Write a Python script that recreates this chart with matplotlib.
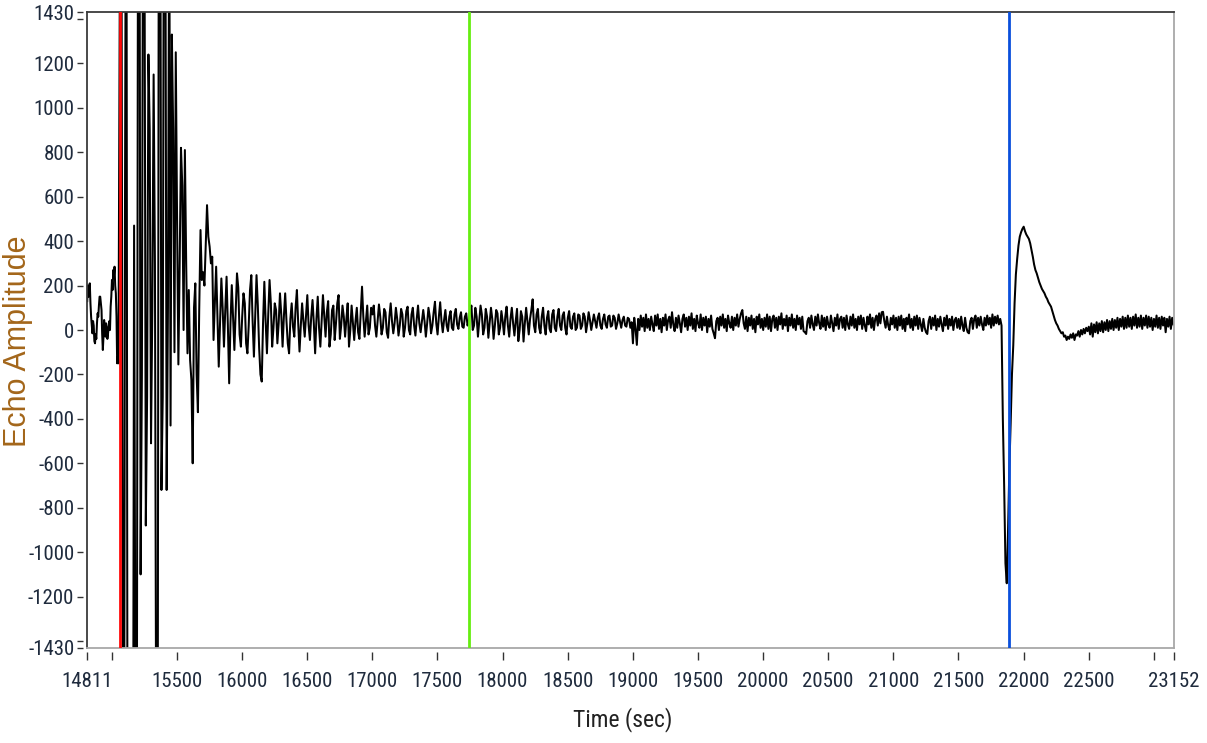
import numpy as np
import matplotlib
matplotlib.use("Agg")
import matplotlib.pyplot as plt
from matplotlib import font_manager as fm

# ---------------- data ----------------
pre_event_start, pre_event_interval = 14811, 5
pre_event = [130, 200, 150, 195, 210, 120, 60, 20, -15, 40, 20, -50, -60, -20, -40, 30,
             75, 60, 110, 150, 150, 120, 90, -20, -90, -30, 45, 10, -30, 30, 15, -40,
             -15, 10, 40, 0, 105, 150, 225, 180, 270, 240, 285, 200, 165, 60, -150, -120]

sample_interval = 10  # seconds between samples after the pre-event part

burst_start = 15051
burst = [-150, 1500, 3000, -500, -3500, 500, 3000, -2500, -4000, -4000, -3500, -3000,
         470, -1800, -2500, 2000, 2800, -1100, -200, 2400, 1800, -880, -300, 1240, 900,
         -510, 100, 1150, 300, -2000, -2600, 2200, 2600, -720, -300, 2400, 2000, -720,
         100, 2000, -430, 1330, 900, -100, 1250]

ringdown_start = 15501
ringdown = [500, -155, 300, 820, 650, 0, 810, 300, -105, 180, -135, -225, -600, 100, 210,
            -200, -370, 90, 450, 225, 260, 200, 380, 562, 420, 375, 300, 330, -45, 120, 285,
            60, -165, 40, 232, 100, -75, 90, 240, 20, -240, 30, 202, 60, -90, 80, 255, 190,
            -20, -75, 60]

coda_1_start = 16011
coda_1 = [165, 120, -60, -105, 20, 180, 247, 40, -120, 60,
          247, 110, -80, -200, -232, 30, 217, 40, -105, 70,
          225, 120, -75, 10, 120, 90, -60, 30, 165, 70,
          -75, 60, 165, 40, -60, -105, 50, 120, 15, -30,
          100, 180, 30, -97, 20, 120, 40, -30, 60, 157,
          20, -45, 60, 135, 30, -105, 50, 150, 10, -75,
          40, 157, 60, -30, 80, 130, -75, -20, 90, 110,
          -45, 30, 120, 157, -40, 20, 110, 60, -30, 50,
          120, -75, 0, 110, 30, -45, 40, 100, -10, -40,
          80, 195, 60, -30, 40, 110, -20, 10, 100, 70]

coda_2_start = 17011
coda_2 = [110, 20, -30, 40, 115, 60, -20, 10, 95, 80,
          -10, -35, 60, 120, 40, -15, 30, 100, 50, -25,
          20, 95, 70, -30, 10, 85, 105, 0, -20, 70,
          100, 20, -25, 50, 110, 30, -10, 40, 90, 40,
          -30, 30, 100, 60, -15, 20, 80, 127, 30, -20,
          60, 125, 40, -10, 45, 90, 20, -5, 60, 85,
          10, 0, 70, 95, 25, 5, 55, 80, 15, 10,
          60, 75, 20, 40, 90, 110, 0, 20, 100, 60,
          -30, 40, 110, 70, -20, 10, 95, 60, -35, 30,
          100, 50, -40, 20, 90, 75, -20, 10, 85, 40]

coda_3_start = 18011
coda_3 = [-20, 60, 105, 20, -30, 50, 100, 30, -25, 40,
          95, -50, 0, 85, 60, -52, 30, 100, 40, -20,
          50, 90, 138, 20, -10, 70, 95, 10, -15, 60,
          100, 20, -20, 55, 85, 5, -10, 70, 90, 10,
          -5, 60, 95, 20, 0, 65, 80, 10, -20, 55,
          85, 15, 5, 60, 75, 0, 10, 70, 65, 5,
          20, 75, 60, -10, 30, 80, 45, 0, 35, 70,
          40, 10, 55, 75, 20, 5, 50, 70, 25, 10,
          60, 65, 15, 20, 65, 55, 5, 30, 70, 40,
          10, 45, 60, 20, 15, 55, 50, 10, 35, -60]

quiet_1_start = 19011
quiet_1 = [55, 5, -67, 50, 0, 65, 15, 55, -5, 70,
           10, 50, 0, 60, 25, -5, 65, 20, 70, 5,
           50, -10, 55, 20, 70, 0, 45, 60, 10, 80,
           25, -5, 55, 10, 65, 30, -10, 50, 70, 15,
           55, 0, 60, 20, 75, 5, 50, -5, 65, 30,
           10, 70, 0, 55, 20, 60, -10, 50, 15, 65,
           5, -15, -37, 40, 55, 0, 60, 20, 70, 10,
           50, -5, 65, 30, 10, 60, 0, 55, 20, 70,
           15, 50, 75, 90, 30, 5, 60, -5, 55, 20,
           65, 5, 50, -10, 60, 25, 70, 10, 50, 0]

quiet_2_start = 20011
quiet_2 = [55, 15, 70, 5, 60, -5, 50, 65, 10, 55,
           0, 60, 25, 75, 5, 50, 20, 65, -5, 55,
           20, 70, 10, 50, 0, 65, 25, 55, 5, 60,
           -5, -10, -18, 40, 55, 10, 65, 25, 0, 60,
           20, 70, 30, 5, 65, 15, 55, 0, 60, 25,
           10, 65, 30, -5, 55, 20, 70, 5, 50, 60,
           10, 55, 0, 65, 25, 5, 60, 20, 70, 10,
           50, 0, 60, 25, 65, 5, 55, 20, -5, 60,
           25, 70, 10, 55, 0, 50, 65, 20, 75, 30,
           80, 82, 40, 10, 60, 20, 0, 55, 25, 65]

quiet_3_start = 21011
quiet_3 = [10, 55, 0, 60, 20, 65, 5, 50, -5, 55,
           25, 70, 10, 50, 0, 60, 20, 65, 5, 55,
           25, -5, 50, 10, -10, -18, 40, 60, 5, 55,
           20, 65, 0, 50, 15, 60, 25, -5, 55, 20,
           65, 5, 50, 20, 60, 0, 45, 55, 10, 50,
           5, 60, 20, -5, 55, 10, -10, -15, 40, 55,
           5, 50, 65, 10, 55, 20, 60, 25, 0, 55,
           20, 65, 25, 55, 10, 70, 20, 60, 30, 65,
           25, 50]

echo_start = 21831
echo = [20, -400, -700, -1050, -1140, -900, -620, -420, -200, -70,
        120, 250, 320, 380, 420, 440, 455, 465, 445, 430,
        420, 410, 390, 360, 330, 295, 270, 255, 235, 215,
        200, 185, 175, 165, 150, 140, 125, 115, 105, 85,
        65, 45, 30, 20, 5, -5, -15, -10, -30, -25,
        -45, -30, -40, -20, -35, -15, -45, -20, -25, -5,
        -30, 0, -20, 5, -15, 10, -5, 15]

tail_start = 22511
tail = [-20, 30, -30, 25, -10, 35, -15, 30, -5, 40,
        -10, 35, 0, 45, -5, 40, 5, 50, 0, 45,
        10, 55, 0, 50, 15, 60, 5, 55, 10, 65,
        15, 55, 5, 60, 20, 70, 10, 55, 15, 65,
        5, 55, 20, 65, 10, 60, 15, 55, 0, 50,
        15, 65, 10, 55, 5, 60, 20, 55, -10, 50,
        15, 60, 5, 55, 25]

segments = [(pre_event_start, pre_event_interval, pre_event),
            (burst_start, sample_interval, burst),
            (ringdown_start, sample_interval, ringdown),
            (coda_1_start, sample_interval, coda_1),
            (coda_2_start, sample_interval, coda_2),
            (coda_3_start, sample_interval, coda_3),
            (quiet_1_start, sample_interval, quiet_1),
            (quiet_2_start, sample_interval, quiet_2),
            (quiet_3_start, sample_interval, quiet_3),
            (echo_start, sample_interval, echo),
            (tail_start, sample_interval, tail)]

cursor_times = [15060, 17740, 21890]
cursor_colors = ["#ff0a0a", "#66ee11", "#0a4fdc"]

x_min, x_max = 14811, 23152
y_min, y_max = -1430, 1430
x_ticks = [14811, 15000, 15500, 16000, 16500, 17000, 17500, 18000, 18500, 19000,
           19500, 20000, 20500, 21000, 21500, 22000, 22500, 23000, 23152]
x_tick_labels = ["14811", "", "15500", "16000", "16500", "17000", "17500", "18000",
                 "18500", "19000", "19500", "20000", "20500", "21000", "21500", "22000",
                 "22500", "", "23152"]
y_ticks = [-1430, -1400, -1200, -1000, -800, -600, -400, -200, 0, 200, 400, 600, 800,
           1000, 1200, 1400, 1430]
y_tick_labels = ["-1430", "", "-1200", "-1000", "-800", "-600", "-400", "-200", "0",
                 "200", "400", "600", "800", "1000", "1200", "", "1430"]

# ---------------- build series ----------------
times = np.concatenate([start + step * np.arange(len(vals)) for start, step, vals in segments])
amps = np.concatenate([np.asarray(vals, dtype=float) for _, _, vals in segments])

# ---------------- fonts: prefer a narrow face like the reference ----------------
entries = fm.fontManager.ttflist
names = {f.name for f in entries}
narrow_fp = None
scale = 1.0
for fam in ["Liberation Sans Narrow", "Arial Narrow", "Roboto Condensed",
            "Open Sans Condensed", "Noto Sans Condensed", "DejaVu Sans Condensed"]:
    if fam in names:
        narrow_fp = fm.FontProperties(family=fam)
        break
if narrow_fp is None:
    for pref in ["Noto Sans", "Roboto", "Open Sans", "DejaVu Sans", "Liberation Sans"]:
        for f in entries:
            st = str(f.stretch).lower()
            if f.name == pref and "condensed" in st and "extra" not in st and "ultra" not in st \
                    and str(f.weight) in ("400", "normal", "regular") and f.style == "normal":
                narrow_fp = fm.FontProperties(fname=f.fname)
                break
        if narrow_fp is not None:
            break
if narrow_fp is None:
    narrow_fp = fm.FontProperties(family="Liberation Sans")
    scale = 0.84

# ---------------- figure ----------------
W, H = 1207, 743
fig = plt.figure(figsize=(W / 100, H / 100), dpi=100)
left, right, top, bottom = 87.2, 1173.6, 12.3, 647.7
ax = fig.add_axes([left / W, 1 - bottom / H, (right - left) / W, (bottom - top) / H])

ax.plot(times, amps, color="black", lw=1.45, zorder=2)
for t, c in zip(cursor_times, cursor_colors):
    ax.axvline(t, color=c, lw=2.0, zorder=3)

ax.set_xlim(x_min, x_max)
ax.set_ylim(y_min, y_max)

ax.spines["top"].set_color("#3a3a3a")
ax.spines["left"].set_color("#3a3a3a")
ax.spines["right"].set_color("#a8a8a8")
ax.spines["bottom"].set_color("#a8a8a8")
for s in ax.spines.values():
    s.set_linewidth(1.3)
ax.tick_params(left=False, bottom=False, labelleft=False, labelbottom=False)

label_color = "#1f2b3d"

# secondary axes draw ticks detached from the frame, as in the reference
secx = ax.secondary_xaxis(-4.5 / (bottom - top))
secx.spines["bottom"].set_visible(False)
secx.set_xticks(x_ticks)
secx.set_xticklabels(x_tick_labels)
secx.tick_params(axis="x", direction="out", length=6.0, width=1.0, color="#333333",
                 pad=8.0, labelcolor=label_color)
for lab in secx.get_xticklabels():
    lab.set_fontproperties(narrow_fp)
    lab.set_fontsize(15 * scale)

secy = ax.secondary_yaxis(-4.5 / (right - left))
secy.spines["left"].set_visible(False)
secy.set_yticks(y_ticks)
secy.set_yticklabels(y_tick_labels)
secy.tick_params(axis="y", direction="out", length=4.5, width=1.0, color="#333333",
                 pad=1.5, labelcolor=label_color)
for lab in secy.get_yticklabels():
    lab.set_fontproperties(narrow_fp)
    lab.set_fontsize(15 * scale)

ax.set_xlabel("Time (sec)", color="#222222")
ax.xaxis.label.set_fontproperties(narrow_fp)
ax.xaxis.label.set_fontsize(17 * scale)
ax.xaxis.set_label_coords((623 - left) / (right - left), (bottom - 720) / (bottom - top))
ax.xaxis.label.set_va("center")

ax.set_ylabel("Echo Amplitude", fontsize=22, color="#a3661a",
              family=["Liberation Sans", "DejaVu Sans"])
ax.yaxis.set_label_coords((18 - left) / (right - left), (bottom - 341) / (bottom - top))
ax.yaxis.label.set_va("center")

fig.savefig("out.png", dpi=100, facecolor="white")
